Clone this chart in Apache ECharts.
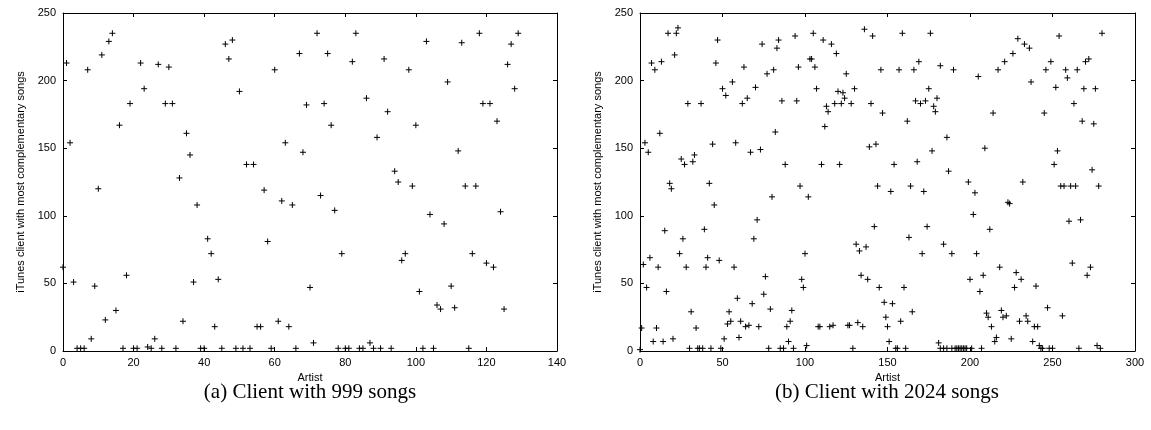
<!DOCTYPE html>
<html>
<head>
<meta charset="utf-8">
<script src="https://cdn.jsdelivr.net/npm/echarts@6/dist/echarts.min.js"></script>
<style>
  html, body { margin: 0; padding: 0; background: #fff; }
  #chart { width: 1151px; height: 430px; }
</style>
</head>
<body>
<div id="chart"></div>
<script>
// Panel (a): client with 999 songs, one point per artist
const artistA = [
  0,1,2,3,4,5,6,7,8,9,10,11,12,13,14,15,16,17,18,19,
  20,21,22,23,24,25,26,27,28,29,30,31,32,33,34,35,36,37,38,39,
  40,41,42,43,44,45,46,47,48,49,50,51,52,53,54,55,56,57,58,59,
  60,61,62,63,64,65,66,67,68,69,70,71,72,73,74,75,76,77,78,79,
  80,81,82,83,84,85,86,87,88,89,90,91,92,93,94,95,96,97,98,99,
  100,101,102,103,104,105,106,107,108,109,110,111,112,113,114,115,116,117,118,119,
  120,121,122,123,124,125,126,127,128,129
];
const clientA = [
  62,213,154,51,2,2,2,208,9,48,
  120,219,23,229,235,30,167,2,56,183,
  2,2,213,194,3,2,9,212,2,183,
  210,183,2,128,22,161,145,51,108,2,
  2,83,72,18,53,2,227,216,230,2,
  192,2,138,2,138,18,18,119,81,2,
  208,22,111,154,18,108,2,220,147,182,
  47,6,235,115,183,220,167,104,2,72,
  2,2,214,235,2,2,187,6,2,158,
  2,216,177,2,133,125,67,72,208,122,
  167,44,2,229,101,2,34,31,94,199,
  48,32,148,228,122,2,72,122,235,183,
  65,183,62,170,103,31,212,227,194,235
];

// Panel (b): client with 2024 songs
const artistB = [
  0,1,2,3,4,5,6,7,8,9,10,11,12,13,14,15,16,17,18,19,
  20,21,22,23,24,25,26,27,28,29,30,31,32,33,34,35,36,37,38,39,
  40,41,42,43,44,45,46,47,48,49,50,51,52,53,54,55,56,57,58,59,
  60,61,62,63,64,65,66,67,68,69,70,71,72,73,74,75,76,77,78,79,
  80,81,82,83,84,85,86,87,88,89,90,91,92,93,94,95,96,97,98,99,
  100,101,102,103,104,105,106,107,108,109,110,111,112,113,114,115,116,117,118,119,
  120,121,122,123,124,125,126,127,128,129,130,131,132,133,134,135,136,137,138,139,
  140,141,142,143,144,145,146,147,148,149,150,151,152,153,154,155,156,157,158,159,
  160,161,162,163,164,165,166,167,168,169,170,171,172,173,174,175,176,177,178,179,
  180,181,182,182,184,184,186,186,187,189,189,190,191,192,193,194,195,196,197,198,
  199,200,201,202,203,204,205,206,207,208,209,
  210,211,212,213,214,215,216,217,218,219,220,221,222,223,224,225,226,227,228,229,
  230,231,232,233,234,235,236,237,238,239,240,241,242,243,244,245,246,247,248,249,
  250,251,252,253,254,255,256,257,258,259,260,261,262,263,264,265,266,267,268,269,
  270,271,272,273,274,275,276,277,278,279,280
];
const clientB = [
  1,17,64,154,47,147,69,213,7,208,17,62,161,214,7,89,44,235,124,120,
  9,219,235,239,72,142,83,138,62,183,2,29,140,145,17,2,2,183,2,90,
  62,69,124,2,153,108,213,230,67,2,194,9,189,20,29,22,199,62,154,39,
  10,22,183,210,18,187,19,147,35,83,195,97,18,149,227,42,55,205,2,31,
  114,208,162,224,230,2,185,2,138,18,7,22,30,2,233,185,210,122,53,47,
  72,4,114,216,216,235,210,194,18,18,138,230,166,181,177,18,227,19,183,220,
  192,138,183,191,187,205,19,19,183,2,194,79,21,74,56,18,238,77,53,151,
  183,233,92,153,122,47,208,176,36,25,18,7,118,35,138,2,2,208,22,235,
  47,2,170,84,122,29,208,185,140,214,183,72,118,185,92,194,235,148,181,177,
  187,6,211,2,79,2,158,2,133,72,2,208,2,2,2,2,2,2,2,2,
  125,53,2,101,117,72,203,44,2,56,150,
  28,25,90,18,176,7,10,208,62,30,25,214,26,110,109,9,220,47,58,231,
  22,53,125,227,26,22,224,199,7,18,48,18,4,2,2,176,208,32,2,214,
  2,138,195,148,233,122,26,122,208,202,96,122,65,183,122,208,2,97,170,194,
  214,56,216,62,134,168,194,4,122,2,235
];

const xTicksA = { min: 0, max: 140, interval: 20 };
const xTicksB = { min: 0, max: 300, interval: 50 };
const yTicks = { min: 0, max: 250, interval: 50 };

const captions = ['(a) Client with 999 songs', '(b) Client with 2024 songs'];
const xTitle = 'Artist';
const yTitle = 'iTunes client with most complementary songs';

const SANS = '"Liberation Sans", Arial, sans-serif';
const SERIF = '"Liberation Serif", "Times New Roman", serif';
const BLACK = '#000';

function pairs(xs, ys) {
  return xs.map((x, i) => [x, ys[i]]);
}

const tickStyle = { show: true, inside: true, length: 4, lineStyle: { color: BLACK, width: 1 } };
const lineStyle = { show: true, onZero: false, lineStyle: { color: BLACK, width: 1 } };

function xAxisPair(grid, ticks) {
  return [
    {
      gridIndex: grid, type: 'value', position: 'bottom',
      min: ticks.min, max: ticks.max, interval: ticks.interval,
      axisLine: lineStyle, axisTick: tickStyle, splitLine: { show: false },
      axisLabel: { color: BLACK, fontFamily: SANS, fontSize: 11, margin: 6 },
      name: xTitle, nameLocation: 'middle', nameGap: 16,
      nameTextStyle: { color: BLACK, fontFamily: SANS, fontSize: 11 }
    },
    {
      gridIndex: grid, type: 'value', position: 'top',
      min: ticks.min, max: ticks.max, interval: ticks.interval,
      axisLine: lineStyle, axisTick: tickStyle, splitLine: { show: false },
      axisLabel: { show: false }
    }
  ];
}

function yAxisPair(grid) {
  return [
    {
      gridIndex: grid, type: 'value', position: 'left',
      min: yTicks.min, max: yTicks.max, interval: yTicks.interval,
      axisLine: lineStyle, axisTick: tickStyle, splitLine: { show: false },
      axisLabel: { color: BLACK, fontFamily: SANS, fontSize: 11, margin: 7 },
      name: yTitle, nameLocation: 'middle', nameGap: 37, nameRotate: 90,
      nameTextStyle: { color: BLACK, fontFamily: SANS, fontSize: 11 }
    },
    {
      gridIndex: grid, type: 'value', position: 'right',
      min: yTicks.min, max: yTicks.max, interval: yTicks.interval,
      axisLine: lineStyle, axisTick: tickStyle, splitLine: { show: false },
      axisLabel: { show: false }
    }
  ];
}

const plusMark = 'path://M0,5H10M5,0V10';

function scatter(xIndex, yIndex, data) {
  return {
    type: 'scatter', xAxisIndex: xIndex, yAxisIndex: yIndex,
    data: data, symbol: plusMark, symbolSize: 6,
    itemStyle: { color: BLACK, borderColor: BLACK, borderWidth: 1, opacity: 1 },
    emphasis: { disabled: true }, silent: true
  };
}

const chart = echarts.init(document.getElementById('chart'), null, { renderer: 'canvas' });
chart.setOption({
  animation: false,
  backgroundColor: '#fff',
  grid: [
    { left: 63, top: 13, width: 494, height: 338, show: false },
    { left: 640, top: 13, width: 495, height: 338, show: false }
  ],
  xAxis: [...xAxisPair(0, xTicksA), ...xAxisPair(1, xTicksB)],
  yAxis: [...yAxisPair(0), ...yAxisPair(1)],
  series: [
    scatter(0, 0, pairs(artistA, clientA)),
    scatter(2, 2, pairs(artistB, clientB))
  ],
  graphic: [
    { type: 'text', x: 310, y: 392, silent: true,
      style: { text: captions[0], fill: BLACK, font: '21px ' + SERIF, textAlign: 'center', textVerticalAlign: 'middle' } },
    { type: 'text', x: 887, y: 392, silent: true,
      style: { text: captions[1], fill: BLACK, font: '21px ' + SERIF, textAlign: 'center', textVerticalAlign: 'middle' } }
  ]
});
</script>
</body>
</html>
